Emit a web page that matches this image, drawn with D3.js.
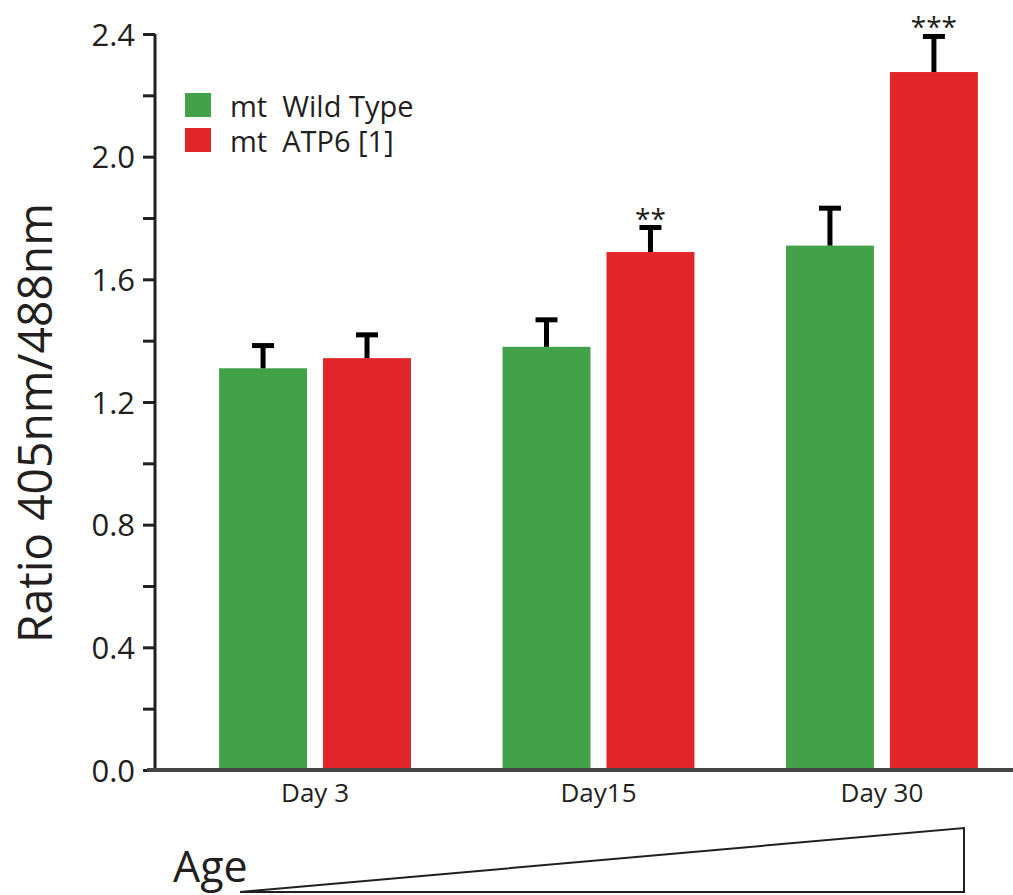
<!DOCTYPE html>
<html>
<head>
<meta charset="utf-8">
<script src="https://cdn.jsdelivr.net/npm/d3@7"></script>
<style>
  html, body { margin: 0; padding: 0; background: #fff; }
  svg { display: block; font-family: "Open Sans", sans-serif; }
  text { fill: #231f20; }
</style>
</head>
<body>
<div id="chart"></div>
<script>
// ratio 405/488 (roGFP), mean + SEM per age group
const days = ["Day 3", "Day15", "Day 30"];
const seriesNames = ["mt  Wild Type", "mt  ATP6 [1]"];
const wtMean = [1.31, 1.38, 1.71];
const wtErr = [0.074, 0.088, 0.122];
const atpMean = [1.343, 1.689, 2.276];
const atpErr = [0.076, 0.08, 0.116];
const atpStars = ["", "**", "***"];
const yTicks = [0, 0.2, 0.4, 0.6, 0.8, 1.0, 1.2, 1.4, 1.6, 1.8, 2.0, 2.2, 2.4];

const colors = ["#43a14a", "#e02628"];
const width = 1013, height = 895;
const margin = { top: 34, right: 0, bottom: 125, left: 155 };
const baseY = height - margin.bottom;

const svg = d3.select("#chart").append("svg")
  .attr("width", width)
  .attr("height", height);

const y = d3.scaleLinear().domain([0, 2.4]).range([baseY, margin.top]);

const x0 = d3.scaleBand().domain(days)
  .range([margin.left, width - margin.right])
  .paddingInner(0.323).paddingOuter(0.175).align(0.646);
const x1 = d3.scaleBand().domain([0, 1])
  .range([0, x0.bandwidth()])
  .paddingInner(0.154);

const rows = days.map((d, i) => [
  { day: d, s: 0, v: wtMean[i], e: wtErr[i], star: "" },
  { day: d, s: 1, v: atpMean[i], e: atpErr[i], star: atpStars[i] },
]).flat();

// bars
svg.append("g").selectAll("rect").data(rows).join("rect")
  .attr("x", r => x0(r.day) + x1(r.s))
  .attr("y", r => y(r.v))
  .attr("width", x1.bandwidth())
  .attr("height", r => y(0) - y(r.v))
  .attr("fill", r => colors[r.s]);

// error bars (upper half only)
const eb = svg.append("g").attr("stroke", "#000").attr("stroke-width", 5);
const cx = r => x0(r.day) + x1(r.s) + x1.bandwidth() / 2;
eb.selectAll("line.v").data(rows).join("line").attr("class", "v")
  .attr("x1", cx).attr("x2", cx)
  .attr("y1", r => y(r.v)).attr("y2", r => y(r.v + r.e));
eb.selectAll("line.cap").data(rows).join("line").attr("class", "cap")
  .attr("x1", r => cx(r) - 11).attr("x2", r => cx(r) + 11)
  .attr("y1", r => y(r.v + r.e)).attr("y2", r => y(r.v + r.e));

// significance stars
svg.append("g").selectAll("text").data(rows.filter(r => r.star)).join("text")
  .attr("x", cx)
  .attr("y", r => y(r.v + r.e) + 1)
  .attr("text-anchor", "middle")
  .attr("font-size", 28)
  .text(r => r.star);

// y axis
const yAxis = svg.append("g")
  .attr("transform", `translate(${margin.left},0)`)
  .call(d3.axisLeft(y).tickValues(yTicks).tickSize(12).tickPadding(8)
    .tickFormat(d => Math.round(d * 10) % 4 === 0 ? d3.format(".1f")(d) : ""));
yAxis.select(".domain").attr("stroke", "#231f20").attr("stroke-width", 3)
  .attr("d", `M0,${y(0)}V${y(2.4)}`);
yAxis.selectAll(".tick line").attr("stroke", "#231f20").attr("stroke-width", 3);
yAxis.selectAll(".tick text").attr("font-size", 31).attr("font-family", "Open Sans")
  .attr("fill", "#231f20").attr("dy", "0.36em");

// baseline
svg.append("line")
  .attr("x1", 147).attr("x2", width)
  .attr("y1", y(0)).attr("y2", y(0))
  .attr("stroke", "#444").attr("stroke-width", 4);

// category labels
svg.append("g").selectAll("text").data(days).join("text")
  .attr("x", d => x0(d) + x0.bandwidth() / 2)
  .attr("y", baseY + 32)
  .attr("text-anchor", "middle")
  .attr("font-size", 26)
  .text(d => d);

// y title
svg.append("text")
  .attr("transform", `translate(52,423) rotate(-90)`)
  .attr("text-anchor", "middle")
  .attr("font-size", 47)
  .attr("textLength", 440)
  .attr("lengthAdjust", "spacingAndGlyphs")
  .text("Ratio 405nm/488nm");

// legend
const legend = svg.append("g").attr("transform", "translate(185,93)");
seriesNames.forEach((name, i) => {
  legend.append("rect").attr("x", 0).attr("y", i * 35)
    .attr("width", 26).attr("height", 24).attr("fill", colors[i]);
  legend.append("text").attr("x", 45).attr("y", i * 35 + 24)
    .attr("font-size", 29)
    .style("white-space", "pre")
    .text(name);
});

// age wedge
svg.append("path")
  .attr("d", "M240,892L964,828L964,892Z")
  .attr("fill", "none")
  .attr("stroke", "#231f20")
  .attr("stroke-width", 2);
svg.append("text")
  .attr("x", 173).attr("y", 882)
  .attr("font-size", 43)
  .text("Age");
</script>
</body>
</html>
